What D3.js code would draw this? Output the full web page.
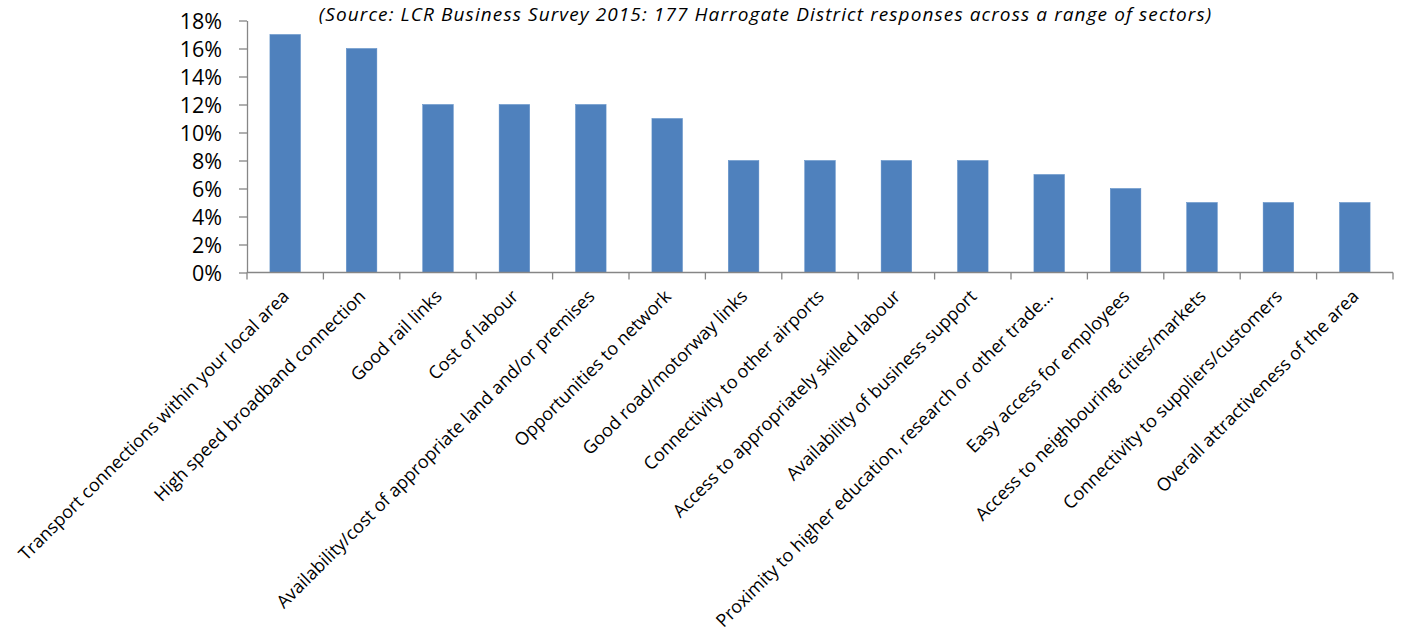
<!DOCTYPE html>
<html><head><meta charset="utf-8">
<script src="https://cdn.jsdelivr.net/npm/d3@7"></script>
<style>body{margin:0;background:#fff}svg{display:block}</style>
</head><body>
<svg id="c" width="1403" height="632"></svg>
<script>
const categories = [
  "Transport connections within your local area",
  "High speed broadband connection",
  "Good rail links",
  "Cost of labour",
  "Availability/cost of appropriate land and/or premises",
  "Opportunities to network",
  "Good road/motorway links",
  "Connectivity to other airports",
  "Access to appropriately skilled labour",
  "Availability of business support",
  "Proximity to higher education, research or other trade…",
  "Easy access for employees",
  "Access to neighbouring cities/markets",
  "Connectivity to suppliers/customers",
  "Overall attractiveness of the area"
];
const values = [17,16,12,12,12,11,8,8,8,8,7,6,5,5,5];
const yTicks = [0,2,4,6,8,10,12,14,16,18];
const title = "(Source: LCR Business Survey 2015: 177 Harrogate District responses across a range of sectors)";

(function(){
const svg = d3.select("#c");
const font = "'Open Sans', 'Liberation Sans', Arial, sans-serif";
const pL = 247, pR = 1393, pT = 20.5, pB = 272.5;

const x = d3.scaleBand().domain(categories).range([pL, pR]).paddingInner(0.6).paddingOuter(0.3);
const xb = d3.scaleBand().domain(categories).range([pL, pR]);
const y = d3.scaleLinear().domain([0, 18]).range([pB, pT]);

svg.append("text").attr("x", 765.5).attr("y", 20.5).attr("text-anchor", "middle")
  .attr("font-family", font).attr("font-style", "italic").attr("font-size", 19)
  .attr("letter-spacing", 1.1).attr("fill", "#000")
  .text(title);

svg.selectAll("rect.bar").data(values).join("rect").attr("class","bar")
  .attr("x", (d,i) => x(categories[i])).attr("width", x.bandwidth())
  .attr("y", d => y(d)).attr("height", d => y(0) - y(d))
  .attr("fill", "#4F81BD").attr("stroke", "#5B8CC6").attr("stroke-width", 0.5);

const ya = svg.append("g").attr("transform", `translate(${pL},0)`)
  .call(d3.axisLeft(y).tickValues(yTicks).tickSize(8).tickSizeOuter(0).tickFormat(d => d + "%"));
ya.select(".domain").attr("stroke", "#868686").attr("stroke-width", 1.3);
ya.selectAll(".tick line").attr("stroke", "#868686").attr("stroke-width", 1.3);
ya.selectAll(".tick text").attr("font-family", font).attr("font-size", 21.5).attr("fill", "#000").attr("x", -25).attr("dy", "0.36em");

const xg = svg.append("g");
xg.append("line").attr("x1", pL).attr("x2", pR).attr("y1", pB).attr("y2", pB)
  .attr("stroke", "#868686").attr("stroke-width", 1.3);
const edges = categories.map(c => xb(c)).concat([pR]);
xg.selectAll("line.t").data(edges).join("line").attr("class","t")
  .attr("x1", d => d).attr("x2", d => d).attr("y1", pB).attr("y2", pB + 7)
  .attr("stroke", "#868686").attr("stroke-width", 1.3);

svg.selectAll("text.xl").data(categories).join("text").attr("class","xl")
  .attr("font-family", font).attr("font-size", 18).attr("fill", "#000")
  .attr("text-anchor", "end")
  .attr("transform", d => `translate(${xb(d) + xb.bandwidth()/2 + 5},${pB + 25}) rotate(-45)`)
  .text(d => d);
})();
</script>
</body></html>
